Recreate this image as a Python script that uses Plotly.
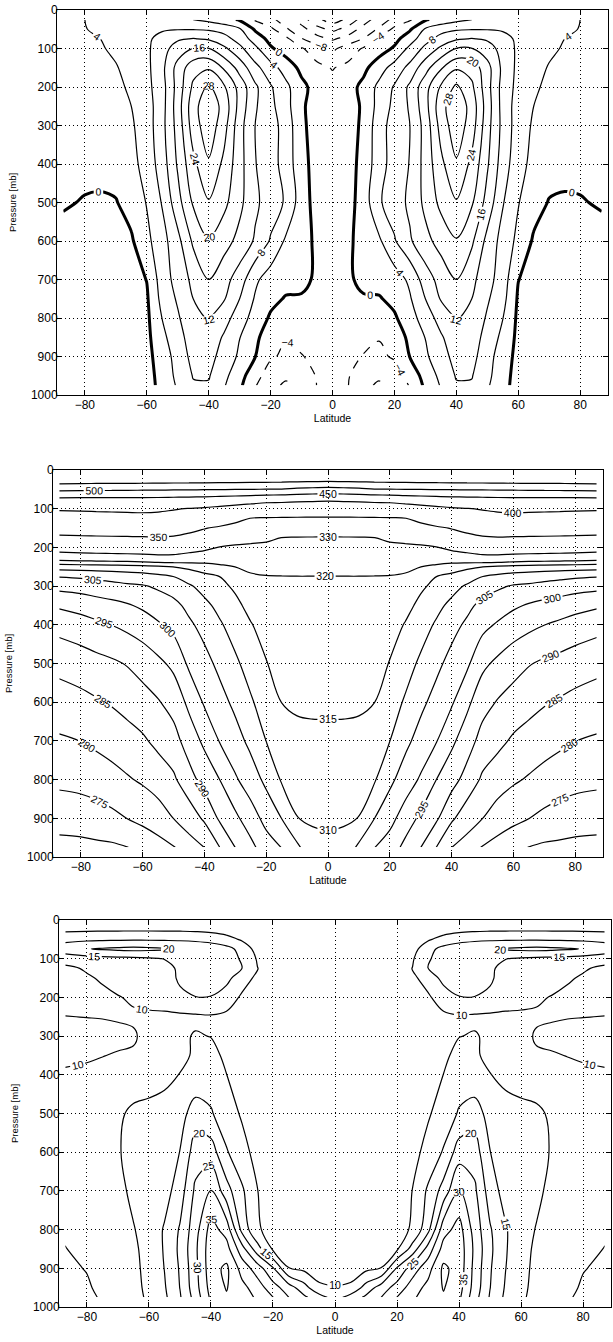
import plotly.graph_objects as go

# ---------------- data (northern half; fields are mirrored about the equator) -------------
LAT_NH = [0, 5, 10, 15, 20, 25, 30, 35, 40, 45, 50, 55, 60, 65, 70, 75, 80, 87]

# Panel 1: zonal-mean zonal wind [m/s], one row per pressure level
P_WIND = [25, 50, 75, 100, 150, 200, 250, 300, 400, 500, 600, 700, 750, 800, 850, 900, 950, 975]
U_WIND_NH = [
    [-22, -19, -14, -10, -7, -4.5, -0.5, 1.5, 3, 4, 5, 5.5, 6, 6, 5.5, 5, 4, 2.5],
    [-17, -14.5, -10.5, -7.5, -3, -0.5, 4.5, 6.5, 7.5, 7.8, 7.8, 7.5, 6.8, 6, 5.5, 5, 3.8, 3],
    [-12.5, -10.5, -7.8, -3, -1.2, 2.2, 6.5, 9.5, 11.5, 12.2, 11.5, 9.5, 7.2, 6, 5, 4, 3.2, 2.5],
    [-8.8, -6.2, -3.6, -1.8, 0.5, 5, 9, 12.8, 16.1, 16.1, 13.8, 10.5, 7.2, 5.8, 4.8, 3.6, 2.8, 2],
    [-4.2, -3, -1, 2.2, 5.6, 9.2, 14.5, 19.5, 23.5, 22.5, 17.5, 11, 7, 5.5, 3.7, 3, 2.4, 1.8],
    [-2.8, -1.5, 1, 5, 8.4, 12.8, 18.5, 24.5, 28.8, 24.8, 17.5, 10.5, 6.8, 4.5, 3.3, 2.6, 2, 1.5],
    [-2, -1.2, 0.4, 5.5, 9, 12.5, 18.5, 26.5, 31, 26.5, 18, 10.5, 6.2, 4, 2.5, 1.8, 1.2, 1],
    [-1.8, -1.1, 0.5, 6.5, 9.5, 12, 17.5, 25.5, 30.5, 26, 17.5, 10.8, 6, 3.5, 2, 1.5, 1, 0.8],
    [-1.5, -1.2, 1, 6.5, 9.5, 12.2, 17.5, 23, 27.5, 23, 16.5, 10, 5.5, 2.8, 1.5, 1, 0.8, 0.6],
    [-1.3, -1.5, 1.8, 7.5, 10, 12.8, 17, 21, 23.7, 20.5, 14.5, 8.3, 4.2, 1.5, -0.2, -0.4, -0.2, 0.3],
    [-1.2, -0.9, 1.8, 3.3, 7.6, 11.5, 14.8, 17.5, 19.7, 16.7, 10.8, 6.5, 3, -0.5, -1.2, -1.3, -1.3, -1],
    [-1.3, -0.5, 0.8, 1.3, 2, 4.8, 10, 13.5, 16, 13, 9.5, 6, 0.1, -1.5, -1.8, -2, -2, -1.8],
    [-1.5, -1.5, -0.3, -0.3, 1, 3.6, 8, 12.3, 14.3, 12, 8.5, 5.3, -0.5, -1.6, -1.9, -2, -2, -1.8],
    [-2, -2.2, -2.7, -3, -0.5, 2.3, 6, 9.5, 12.3, 11, 7.5, 4.1, -0.8, -1.7, -2, -2, -2, -1.8],
    [-2.2, -2.7, -3.4, -3.8, -2, 0.8, 4.1, 7.5, 10.5, 10, 6.5, 3, -1, -1.8, -2, -2.1, -2.1, -1.9],
    [-3, -3.5, -4.1, -4.8, -3.5, 0.1, 3.3, 6.5, 9.3, 9.3, 5.5, 2, -1.2, -1.9, -2.1, -2.2, -2.2, -2],
    [-3.2, -3.8, -5.5, -7.3, -6, -2.5, 1.5, 5, 8.3, 8.2, 5, 1.5, -1.5, -2, -2.2, -2.3, -2.3, -2.1],
    [-3, -3.9, -7, -8.6, -7, -3.7, 0.8, 4.3, 7.6, 7.6, 4.5, 1.2, -1.5, -2, -2.2, -2.3, -2.3, -2.2],
]

# Panel 2: potential temperature [K], one column per latitude (LAT_NH order), values at P_THETA
P_THETA = [25, 50, 75, 100, 125, 150, 175, 200, 250, 275, 300, 350, 400, 500, 600, 700, 800, 900, 975]
THETA_NH_BY_LAT = [
    [565, 483.3, 408.3, 371.1, 346.5, 336.9, 329.3, 327.0, 322.3, 319.95, 319.7, 319.0, 318.3, 317.0, 315.7, 314.1, 312.4, 310.7, 309.0],
    [566, 486.7, 410.0, 371.7, 346.8, 337.2, 329.4, 327.0, 322.2, 319.95, 319.6, 319.0, 318.3, 317.0, 315.7, 314.1, 312.4, 310.6, 308.5],
    [567, 490.0, 411.8, 372.4, 347.0, 337.5, 329.5, 327.1, 322.2, 319.95, 319.6, 319.0, 318.3, 316.9, 315.6, 313.9, 312.0, 309.9, 304.0],
    [568, 497.7, 414.8, 373.4, 347.5, 338.6, 329.9, 327.2, 321.9, 319.9, 319.5, 318.8, 318.0, 316.5, 315.05, 312.7, 310.5, 305.05, 300.1],
    [569, 498.7, 416.2, 374.4, 348.1, 340.0, 331.9, 327.7, 321.8, 319.8, 319.2, 318.1, 317.0, 314.8, 312.4, 310.05, 306.2, 301.5, 297.8],
    [570, 500.05, 422.2, 378.8, 349.4, 341.3, 333.2, 327.9, 321.1, 319.4, 318.4, 316.5, 314.7, 312.1, 309.4, 306.3, 302.5, 297.8, 293.6],
    [571, 500.9, 426.6, 384.1, 355.7, 343.3, 335.0, 328.3, 320.05, 317.9, 315.8, 313.8, 312.2, 309.1, 306.2, 303.0, 299.4, 293.9, 290.05],
    [572, 501.7, 430.7, 390.0, 365.0, 346.6, 337.9, 329.5, 318.8, 315.05, 313.8, 311.4, 309.4, 306.3, 303.2, 300.3, 295.05, 290.8, 285.05],
    [573, 502.6, 434.4, 395.5, 373.2, 350.9, 341.4, 332.5, 317.2, 313.9, 311.7, 308.8, 306.7, 303.3, 300.6, 296.0, 291.9, 285.8, 280.05],
    [574, 503.4, 436.4, 398.7, 377.7, 356.7, 344.0, 335.3, 316.1, 312.1, 309.4, 306.3, 304.1, 300.9, 296.1, 292.3, 288.1, 282.2, 278.1],
    [574, 504.2, 438.0, 402.8, 382.6, 363.6, 347.5, 338.8, 315.05, 310.05, 307.2, 303.6, 301.4, 296.1, 291.9, 288.1, 284.2, 280.05, 274.6],
    [575, 505.1, 439.5, 407.7, 385.6, 366.7, 348.9, 339.8, 314.3, 308.9, 305.7, 302.4, 299.4, 293.9, 289.6, 286.2, 282.3, 277.6, 273.2],
    [576, 505.9, 440.3, 409.8, 386.3, 366.1, 348.1, 338.9, 313.5, 308.0, 304.6, 300.8, 297.5, 292.0, 287.9, 284.3, 280.7, 276.0, 272.3],
    [576, 507.0, 440.5, 408.9, 385.5, 365.3, 347.7, 338.3, 313.1, 307.5, 304.1, 299.5, 296.2, 290.3, 286.6, 283.1, 279.5, 275.05, 269.8],
    [577, 507.8, 440.6, 407.9, 384.7, 364.5, 347.4, 337.9, 312.9, 306.9, 303.3, 298.6, 295.05, 289.2, 285.4, 282.0, 278.3, 273.8, 269.2],
    [577, 508.0, 440.5, 406.8, 383.9, 363.7, 347.0, 337.5, 312.7, 306.3, 302.7, 297.8, 294.0, 288.4, 284.5, 281.0, 277.3, 272.9, 269.0],
    [578, 509.4, 440.7, 405.6, 383.1, 362.9, 346.5, 336.9, 312.5, 305.8, 302.0, 296.8, 292.9, 287.5, 283.6, 280.05, 276.6, 272.3, 268.7],
    [580, 511.0, 441.0, 404.4, 382.0, 361.5, 345.7, 335.9, 312.2, 305.3, 301.5, 295.7, 291.7, 286.5, 282.7, 279.4, 276.1, 272.0, 268.5],
]

# Panel 3: eddy field, one row per pressure level
P_EDDY = [25, 50, 75, 100, 125, 150, 200, 250, 300, 350, 400, 500, 600, 700, 800, 850, 900, 950, 975]
EDDY_NH = [
    [3, 3, 3.2, 3.5, 4, 5, 6, 7.5, 8.5, 9, 9.2, 9.3, 9.3, 9.3, 9.3, 9.3, 9.2, 9],
    [4, 4, 4.5, 5, 6, 8, 9.3, 12, 13.5, 14, 14.2, 14.3, 14.4, 14.4, 14.3, 14.2, 14, 13.5],
    [5, 5, 5.5, 6, 7, 8, 13.5, 16.5, 17.5, 18.5, 19.8, 20.5, 21, 21.3, 21, 20.5, 19.8, 18],
    [5.5, 5.5, 6, 7, 8.5, 9.5, 14.5, 17, 17.5, 17, 16, 15.1, 14.5, 14, 13.8, 13.5, 13, 12],
    [5.5, 5.5, 6, 7, 8.8, 10.1, 15.1, 17.5, 17.8, 17, 15.5, 14, 13.5, 13, 12.5, 11.5, 10.5, 9],
    [5, 5, 5.5, 6.5, 7.5, 9, 12, 16.5, 17.5, 17, 15.5, 13.5, 13, 12.5, 11.5, 10.5, 9.5, 8.5],
    [4.5, 4.5, 5, 5.5, 6.5, 7.5, 9.3, 12.5, 14.8, 14.9, 14.3, 12.5, 11.5, 10.5, 9.8, 9, 8.5, 8],
    [4, 4, 4.5, 5, 5.5, 6.5, 7.5, 9, 9.5, 9.2, 9, 9, 9.2, 9.5, 9.6, 9.8, 9.9, 10.1],
    [4, 4.1, 4.3, 4.7, 5.2, 6, 7.2, 8.5, 9.9, 10.3, 9.3, 9, 8.8, 10.4, 11, 11.5, 12, 12.3],
    [4.1, 4.2, 4.4, 4.8, 5.3, 6.2, 7.6, 9.2, 11.2, 10.4, 9.3, 8.8, 8.6, 9.6, 9.7, 10.1, 10.6, 10.8],
    [4.3, 4.4, 4.6, 5, 5.5, 6.5, 8, 10.05, 12.5, 11.5, 10.1, 9, 8.5, 8.3, 8.5, 8.8, 9, 9.5],
    [4.5, 4.6, 4.8, 5.2, 6, 7.5, 9.5, 12, 15.5, 17.5, 13, 11.5, 11, 10.6, 9.5, 8, 7.5, 7.3],
    [4.8, 5, 5.2, 5.8, 6.8, 8.5, 11.5, 15.5, 22.5, 22.5, 15.1, 12.5, 11.5, 10.8, 9.8, 8.5, 7.8, 7.5],
    [5, 5.2, 5.5, 6.2, 7.2, 10.1, 15.8, 22, 30.5, 26, 17.5, 13, 12, 10.8, 9, 8, 7.8, 8],
    [5.5, 5.8, 6.2, 7, 8.2, 10.6, 18.5, 33, 37, 28, 20.5, 15.5, 11.5, 9.8, 8.8, 8, 8.3, 9.5],
    [6, 6.5, 7, 8, 9.3, 17, 27, 37, 38, 29, 21, 15.5, 11, 9.5, 8.5, 8, 9, 10.1],
    [7.5, 7.8, 8.8, 10.1, 20.5, 27.5, 33, 41, 38, 28.5, 20.5, 15.1, 11, 9.2, 8.3, 8.5, 9.8, 10.8],
    [10.3, 10.8, 17, 22.5, 27, 32.5, 36.5, 40.3, 37, 28, 20.1, 14.5, 10.8, 9, 8.3, 9, 10.5, 11.3],
    [13, 17, 21, 25.1, 30.1, 34, 38, 39.5, 36, 27, 19.5, 14, 10.5, 9, 8.5, 9.5, 11, 12],
]

X_TICKS = [-80, -60, -40, -20, 0, 20, 40, 60, 80]
Y_TICKS = [0, 100, 200, 300, 400, 500, 600, 700, 800, 900, 1000]


# ---------------- helpers ----------------
def mirror_lat(lat):
    return [-v for v in lat[:0:-1]] + list(lat)


def mirror_row(row):
    return list(row[:0:-1]) + list(row)


LATS = mirror_lat(LAT_NH)
U_FULL = [mirror_row(r) for r in U_WIND_NH]
THETA_ROWS = [[col[i] for col in THETA_NH_BY_LAT] for i in range(len(P_THETA))]
THETA_FULL = [mirror_row(r) for r in THETA_ROWS]
EDDY_FULL = [mirror_row(r) for r in EDDY_NH]

FONT = "Liberation Sans, Arial, Helvetica, sans-serif"
W, H = 613, 1342


def contour(z, y, start, end, size, axis, width=1.2, dash="solid"):
    return go.Contour(
        x=LATS, y=y, z=z,
        xaxis="x" + axis, yaxis="y" + axis,
        autocontour=False,
        contours=dict(start=start, end=end, size=size, coloring="none",
                      showlabels=True,
                      labelfont=dict(family=FONT, size=10.5, color="black")),
        line=dict(color="black", width=width, dash=dash, smoothing=1.0),
        showscale=False, hoverinfo="skip",
    )


fig = go.Figure()
# panel 1 : zonal wind
fig.add_trace(contour(U_FULL, P_WIND, 4, 32, 4, ""))
fig.add_trace(contour(U_FULL, P_WIND, -24, -4, 4, "", 1.2, "dash"))
fig.add_trace(contour(U_FULL, P_WIND, 0, 0, 1, "", 3.0))
# panel 2 : potential temperature
fig.add_trace(contour(THETA_FULL, P_THETA, 270, 320, 5, "2"))
fig.add_trace(contour(THETA_FULL, P_THETA, 330, 330, 1, "2"))
fig.add_trace(contour(THETA_FULL, P_THETA, 350, 550, 50, "2"))
# panel 3 : eddy field
fig.add_trace(contour(EDDY_FULL, P_EDDY, 10, 40, 5, "3"))

for tr in fig.data[:3]:
    tr.update(xaxis="x", yaxis="y")

panels = {
    "": dict(x0=57, x1=608, y0=10, y1=395),
    "2": dict(x0=53, x1=603, y0=470, y1=857),
    "3": dict(x0=59, x1=611, y0=920, y1=1307),
}

common = dict(
    showline=True, linecolor="black", linewidth=1, mirror="ticks",
    ticks="inside", ticklen=5, tickwidth=1, tickcolor="black",
    showgrid=True, gridcolor="black", gridwidth=1, griddash="1px,3px",
    zeroline=False, automargin=False,
    tickfont=dict(family=FONT, size=12, color="black"),
)

layout = dict(
    width=W, height=H, margin=dict(l=0, r=0, t=0, b=0),
    paper_bgcolor="white", plot_bgcolor="white", showlegend=False,
    font=dict(family=FONT, color="black"),
)
for key, d in panels.items():
    layout["xaxis" + key] = dict(
        common, domain=[d["x0"] / W, d["x1"] / W], range=[-89, 89],
        tickvals=X_TICKS, anchor="y" + key, ticklabelstandoff=-1,
        title=dict(text="Latitude", font=dict(family=FONT, size=10.5), standoff=1),
    )
    layout["yaxis" + key] = dict(
        common, domain=[1 - d["y1"] / H, 1 - d["y0"] / H], range=[1000, 0],
        tickvals=Y_TICKS, anchor="x" + key, ticklabelstandoff=-4,
        title=dict(text="Pressure [mb]", font=dict(family=FONT, size=9.5), standoff=12),
    )

fig.update_layout(**layout)
fig.write_html(
    "out.html",
    config={"displayModeBar": False, "staticPlot": True},
    post_script="document.body.style.margin='0px';document.body.style.overflow='hidden';",
)
